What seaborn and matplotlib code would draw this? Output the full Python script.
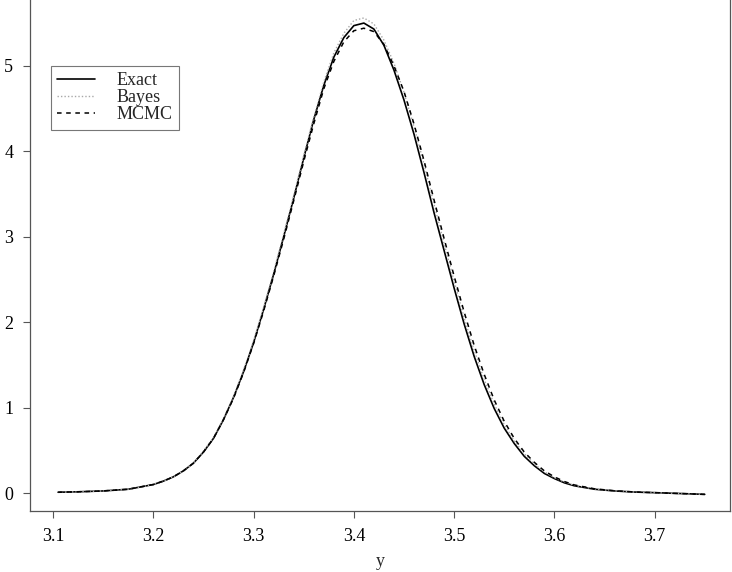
import pandas as pd
import matplotlib
matplotlib.use("Agg")
import matplotlib.pyplot as plt
import seaborn as sns

# Density values
y_grid = [3.105, 3.125, 3.15, 3.175,
          3.20, 3.21, 3.22, 3.23, 3.24, 3.25, 3.26, 3.27, 3.28, 3.29,
          3.30, 3.31, 3.32, 3.33, 3.34, 3.35, 3.36, 3.37, 3.38, 3.39,
          3.40, 3.41, 3.42, 3.43, 3.44, 3.45, 3.46, 3.47, 3.48, 3.49,
          3.50, 3.51, 3.52, 3.53, 3.54, 3.55, 3.56, 3.57, 3.58, 3.59,
          3.60, 3.61, 3.62, 3.64, 3.66, 3.68, 3.70, 3.725, 3.75]

exact = [0.01, 0.015, 0.025, 0.045,
         0.10, 0.14, 0.19, 0.26, 0.35, 0.48, 0.64, 0.86, 1.12, 1.42,
         1.76, 2.15, 2.56, 3.00, 3.45, 3.92, 4.37, 4.77, 5.10, 5.33,
         5.47, 5.50, 5.43, 5.24, 4.95, 4.60, 4.20, 3.75, 3.28, 2.84,
         2.40, 1.98, 1.60, 1.27, 0.99, 0.76, 0.58, 0.43, 0.32, 0.23,
         0.17, 0.12, 0.085, 0.045, 0.025, 0.012, 0.005, -0.005, -0.015]

bayes = [0.01, 0.015, 0.025, 0.045,
         0.10, 0.14, 0.19, 0.26, 0.35, 0.49, 0.65, 0.87, 1.13, 1.44,
         1.78, 2.17, 2.59, 3.03, 3.48, 3.95, 4.40, 4.81, 5.15, 5.38,
         5.53, 5.56, 5.49, 5.30, 5.03, 4.69, 4.29, 3.85, 3.38, 2.92,
         2.48, 2.05, 1.67, 1.33, 1.04, 0.80, 0.61, 0.46, 0.34, 0.25,
         0.18, 0.13, 0.09, 0.048, 0.026, 0.012, 0.005, -0.005, -0.015]

mcmc = [0.01, 0.015, 0.025, 0.045,
        0.10, 0.14, 0.19, 0.26, 0.35, 0.48, 0.64, 0.86, 1.11, 1.41,
        1.75, 2.13, 2.54, 2.97, 3.42, 3.88, 4.32, 4.73, 5.05, 5.28,
        5.41, 5.44, 5.40, 5.25, 5.00, 4.70, 4.32, 3.89, 3.43, 2.98,
        2.54, 2.12, 1.73, 1.39, 1.09, 0.84, 0.64, 0.48, 0.36, 0.26,
        0.19, 0.135, 0.095, 0.05, 0.027, 0.013, 0.005, -0.005, -0.015]

df = pd.DataFrame({"y": y_grid * 3,
                   "density": exact + bayes + mcmc,
                   "method": ["Exact"] * len(y_grid) + ["Bayes"] * len(y_grid) + ["MCMC"] * len(y_grid)})

sns.set_style("ticks")
plt.rcParams["font.family"] = ["Liberation Serif", "DejaVu Serif"]

fig = plt.figure(figsize=(7.32, 5.72), dpi=100)
ax = fig.add_axes([0.041, 0.1066, 0.956, 0.8934])

styles = {"Exact": dict(color="black", linestyle="-", linewidth=1.2),
          "Bayes": dict(color="#a8a8a8", linestyle=(0, (1, 1.5)), linewidth=1.0),
          "MCMC": dict(color="black", linestyle=(0, (3, 3)), linewidth=1.1)}

for name in ["Exact", "Bayes", "MCMC"]:
    sub = df[df["method"] == name]
    sns.lineplot(data=sub, x="y", y="density", ax=ax, label=name, **styles[name])

ax.set_xlim(3.077, 3.775)
ax.set_ylim(-0.21, 5.77)
ax.set_xticks([3.1, 3.2, 3.3, 3.4, 3.5, 3.6, 3.7])
ax.set_yticks([0, 1, 2, 3, 4, 5])
ax.set_xlabel("y", fontsize=13, labelpad=6)
ax.set_ylabel("")
ax.tick_params(axis="both", direction="out", length=5, width=0.8, colors="#555555",
               labelcolor="black", labelsize=13, pad=7)
ax.spines["top"].set_visible(False)
for s in ["left", "bottom", "right"]:
    ax.spines[s].set_color("#555555")
    ax.spines[s].set_linewidth(0.9)

leg = ax.legend(loc="upper left", bbox_to_anchor=(0.03, 0.871), borderaxespad=0,
                fontsize=13, frameon=True, fancybox=False, handlelength=2.1,
                borderpad=0.35, labelspacing=0.0, handletextpad=1.2)
leg.get_frame().set_edgecolor("#555555")
leg.get_frame().set_linewidth(0.8)

fig.savefig("out.png", dpi=100)
